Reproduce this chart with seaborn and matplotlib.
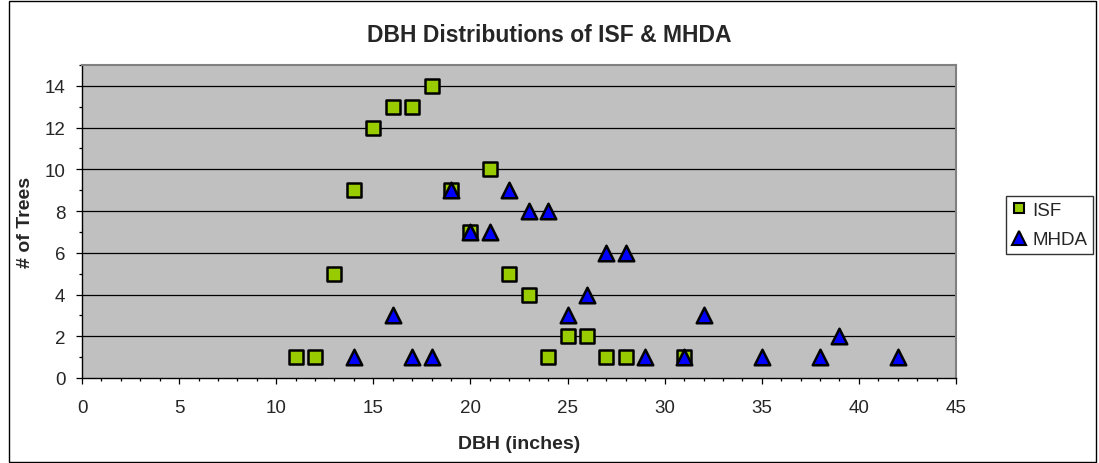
import matplotlib
matplotlib.use("Agg")
import matplotlib.pyplot as plt
from matplotlib.patches import Rectangle
from matplotlib.lines import Line2D
from matplotlib.ticker import MultipleLocator
import seaborn as sns
import pandas as pd

isf_dbh = [11, 12, 13, 14, 15, 16, 17, 18, 19, 20, 21, 22, 23, 24, 25, 26, 27, 28, 31]
isf_count = [1, 1, 5, 9, 12, 13, 13, 14, 9, 7, 10, 5, 4, 1, 2, 2, 1, 1, 1]
mhda_dbh = [14, 16, 17, 18, 19, 20, 21, 22, 23, 24, 25, 26, 27, 28, 29, 31, 32, 35, 38, 39, 42]
mhda_count = [1, 3, 1, 1, 9, 7, 7, 9, 8, 8, 3, 4, 6, 6, 1, 1, 3, 1, 1, 2, 1]
series_names = ["ISF", "MHDA"]

title = "DBH Distributions of ISF & MHDA"
xlabel = "DBH (inches)"
ylabel = "# of Trees"

df = pd.concat([
    pd.DataFrame({"DBH": isf_dbh, "Trees": isf_count, "Series": series_names[0]}),
    pd.DataFrame({"DBH": mhda_dbh, "Trees": mhda_count, "Series": series_names[1]}),
], ignore_index=True)

sns.set_style("white")
plt.rcParams["font.family"] = ["Liberation Sans", "DejaVu Sans"]

colors = {"ISF": "#99CC00", "MHDA": "#0000FF"}
markers = {"ISF": "s", "MHDA": "^"}

fig = plt.figure(figsize=(10.99, 4.64), dpi=100)
ax = fig.add_axes([82 / 1099, 1 - 379 / 464, (956 - 82) / 1099, (379 - 66) / 464])
ax.set_facecolor("#C0C0C0")

for name in series_names:
    sub = df[df["Series"] == name]
    sns.scatterplot(data=sub, x="DBH", y="Trees", ax=ax, color=colors[name],
                    marker=markers[name], s=105 if name == "ISF" else 125,
                    edgecolor="black", linewidth=1.8, legend=False, zorder=3)

ax.set_xlim(0, 45)
ax.set_ylim(0, 15)
ax.xaxis.set_major_locator(MultipleLocator(5))
ax.xaxis.set_minor_locator(MultipleLocator(1))
ax.yaxis.set_major_locator(MultipleLocator(2))
ax.yaxis.set_minor_locator(MultipleLocator(1))
ax.grid(False)
for yv in range(2, 15, 2):
    ax.axhline(yv, color="black", lw=0.9, zorder=1)

ax.tick_params(axis="both", which="major", direction="out", length=4.0, width=0.9,
               color="black", labelsize=13.5, bottom=True, left=True)
ax.tick_params(axis="both", which="minor", direction="out", length=2.5, width=0.9,
               color="black", bottom=True, left=True)
ax.tick_params(axis="x", which="major", pad=11)
ax.tick_params(axis="y", which="major", pad=8)

for s in ["left", "bottom"]:
    ax.spines[s].set_color("black")
    ax.spines[s].set_linewidth(1.0)
for s in ["top", "right"]:
    ax.spines[s].set_color("#808080")
    ax.spines[s].set_linewidth(1.5)

ax.set_xlabel("")
ax.set_ylabel("")
fig.text(0.5 * (82 + 956) / 1099, 1 - 445 / 464, xlabel, ha="center", va="center",
         fontsize=14, fontweight="bold")
fig.text(26 / 1099, 1 - 222.5 / 464, ylabel, ha="center", va="center",
         rotation=90, fontsize=14, fontweight="bold")
fig.text(549.5 / 1099, 1 - 35 / 464, title, ha="center", va="center",
         fontsize=16.5, fontweight="bold")

handles = [Line2D([], [], linestyle="none", marker=markers[n],
                  markersize=7.5 if n == "ISF" else 10,
                  markerfacecolor=colors[n], markeredgecolor="black", markeredgewidth=1.5)
           for n in series_names]
leg = fig.legend(handles, series_names, loc="center left",
                 bbox_to_anchor=(1006 / 1099, 1 - 226 / 464), frameon=True,
                 fancybox=False, fontsize=13.5, handlelength=0.8, handletextpad=0.3,
                 borderpad=0.3, labelspacing=0.68, borderaxespad=0)
leg.get_frame().set_edgecolor("black")
leg.get_frame().set_linewidth(1.0)

fig.patches.append(Rectangle((9 / 1099, 0.002), (1096 - 9) / 1099, 0.993,
                             transform=fig.transFigure, fill=False,
                             edgecolor="black", linewidth=1.0))

fig.savefig("out.png", dpi=100)
